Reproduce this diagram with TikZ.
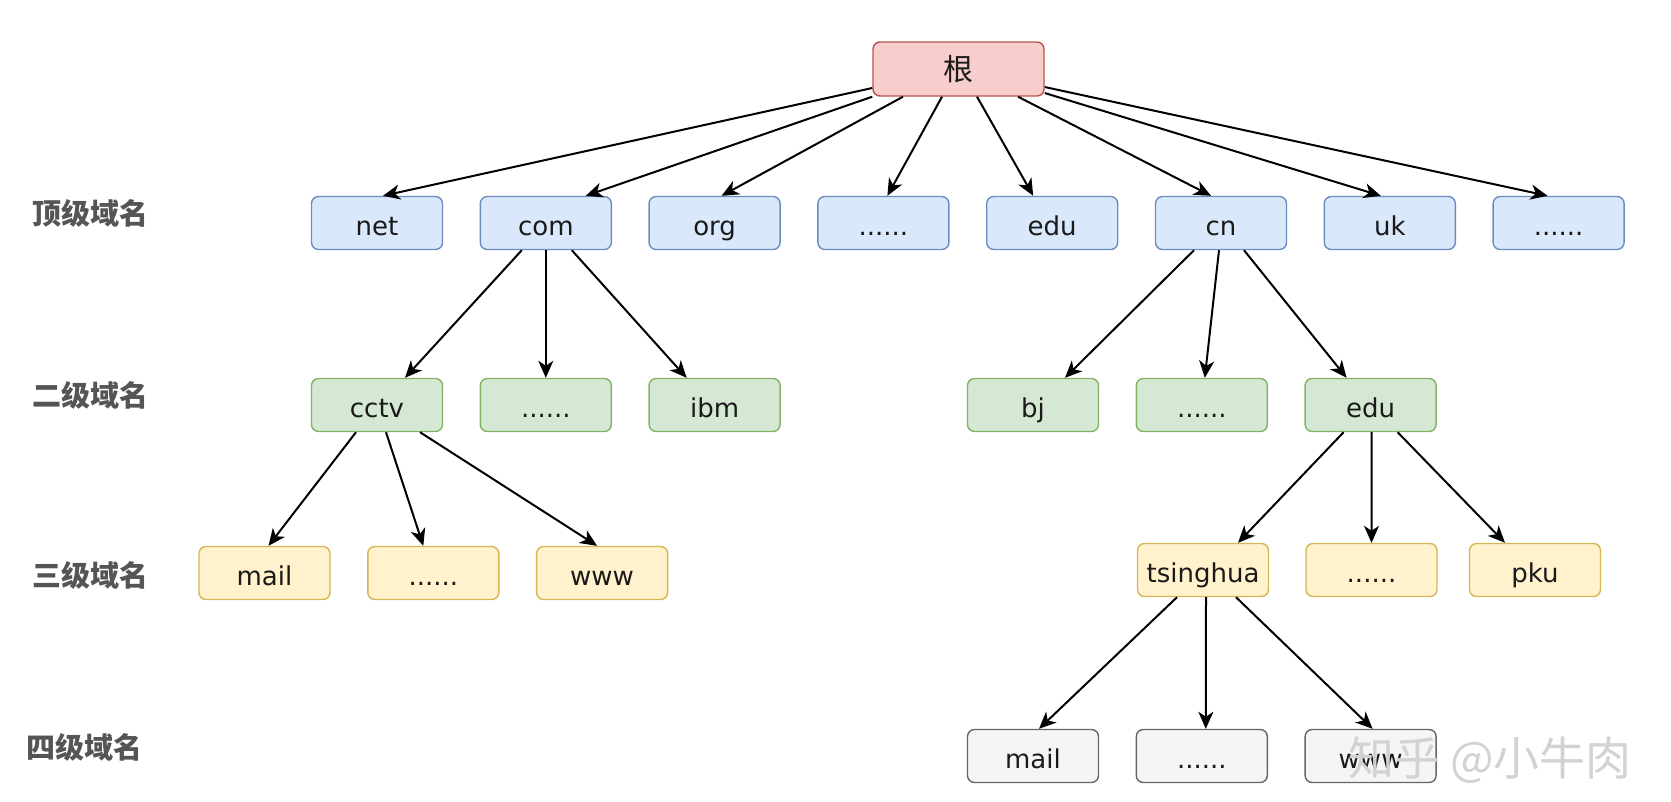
\documentclass[tikz,border=0pt]{standalone}
\usepackage{fontspec}
\setmainfont{DejaVu Sans}
\newfontfamily\cjk{Noto Sans CJK SC}
\usepackage{tikz}
\usetikzlibrary{arrows.meta}
\definecolor{RootFill}{HTML}{F8CECC}
\definecolor{RootLine}{HTML}{B85450}
\definecolor{TopFill}{HTML}{DAE8FC}
\definecolor{TopLine}{HTML}{6C8EBF}
\definecolor{SecFill}{HTML}{D5E8D4}
\definecolor{SecLine}{HTML}{82B366}
\definecolor{ThirdFill}{HTML}{FFF2CC}
\definecolor{ThirdLine}{HTML}{D6B656}
\definecolor{FourFill}{HTML}{F5F5F5}
\definecolor{FourLine}{HTML}{666666}
\definecolor{LvlGrey}{HTML}{555555}
\definecolor{TxtDark}{HTML}{1A1A1A}

\newcommand\moredots{......}

\tikzset{
  dbox/.style n args={2}{draw=#2, fill=#1, rounded corners=7pt,
    minimum width=131pt, minimum height=53pt, inner sep=0pt,
    text height=30pt, text depth=6pt,
    line width=1.4pt, text=TxtDark, font=\fontsize{26}{30}\selectfont},
  lvl/.style={font=\cjk\bfseries\fontsize{29}{32}\selectfont, text=LvlGrey},
  arr/.style={-{Stealth[length=17pt, width=15pt, inset=5pt]}, line width=2pt},
}

\begin{document}
\begin{tikzpicture}[x=1pt, y=-1pt]

  \useasboundingbox (0,0) rectangle (1671,801);

  %% Column settings: 8 top-level columns
  \def\W{168.8}    % column pitch
  \pgfmathsetmacro\cA{377}          % net
  \pgfmathsetmacro\cB{\cA+\W}       % com
  \pgfmathsetmacro\cC{\cA+\W*2}     % org
  \pgfmathsetmacro\cD{\cA+\W*3}     % ......
  \pgfmathsetmacro\cE{\cA+\W*4}     % edu
  \pgfmathsetmacro\cF{\cA+\W*5}     % cn
  \pgfmathsetmacro\cG{\cA+\W*6}     % uk
  \pgfmathsetmacro\cH{\cA+\W*7}     % ......

  % Shifted groups below cn and cctv
  \pgfmathsetmacro\cCnL{1033}       % bj, mail (level 4)
  \pgfmathsetmacro\cCnM{\cCnL+\W}
  \pgfmathsetmacro\cCnR{\cCnL+\W*2}
  \pgfmathsetmacro\cTvL{264.5}      % mail, ......, www (level 3)
  \pgfmathsetmacro\cTvM{\cTvL+\W}
  \pgfmathsetmacro\cTvR{\cTvL+\W*2}

  % Row y-coordinates (centres, counting down)
  \def\yRoot{69}
  \def\yTop{223}
  \def\ySec{405}
  \def\yThL{573}    % third level, left group
  \def\yThR{570}    % third level, right group
  \def\yFour{756}

  %% Level labels
  \node[lvl] (lTop)   at (90, 213) {顶级域名};
  \node[lvl] (lSec)   at (90, 395) {二级域名};
  \node[lvl] (lThird) at (90, 575) {三级域名};
  \node[lvl] (lFour)  at (85, 747) {四级域名};

  %% Root
  \node[dbox={RootFill}{RootLine}, minimum width=171pt, minimum height=54pt,
    text height=26pt, text depth=4pt,
    font=\cjk\fontsize{30}{32}\selectfont] (root) at (958.5, \yRoot) {根};

  %% Top-level domains
  \foreach \nm/\cx/\lbl in {
    net/\cA/net, com/\cB/com, org/\cC/org, topmore/\cD/\moredots,
    edutop/\cE/edu, cn/\cF/cn, uk/\cG/uk, topmoreb/\cH/\moredots
  }{
    \node[dbox={TopFill}{TopLine}] (\nm) at (\cx, \yTop) {\lbl};
  }

  %% Second-level domains
  \foreach \nm/\cx/\lbl in {
    cctv/\cA/cctv, commore/\cB/\moredots, ibm/\cC/ibm,
    bj/\cCnL/bj, cnmore/\cCnM/\moredots, edu/\cCnR/edu
  }{
    \node[dbox={SecFill}{SecLine}] (\nm) at (\cx, \ySec) {\lbl};
  }

  %% Third-level domains
  \foreach \nm/\cx/\lbl in {
    mail/\cTvL/mail, cctvmore/\cTvM/\moredots, www/\cTvR/www
  }{
    \node[dbox={ThirdFill}{ThirdLine}] (\nm) at (\cx, \yThL) {\lbl};
  }
  \foreach \nm/\cx/\lbl in {
    tsinghua/1203/tsinghua, edumore/1371.5/\moredots, pku/1535/pku
  }{
    \node[dbox={ThirdFill}{ThirdLine}] (\nm) at (\cx, \yThR) {\lbl};
  }

  %% Fourth-level domains
  \foreach \nm/\cx/\lbl in {
    thumail/\cCnL/mail, thumore/\cCnM/\moredots, thuwww/\cCnR/www
  }{
    \node[dbox={FourFill}{FourLine}] (\nm) at (\cx, \yFour) {\lbl};
  }

  %% Arrows from root
  \draw[arr] ([yshift=-19]root.west) -- ([xshift=6]net.north);
  \draw[arr] (root.south west) -- ([xshift=40]com.north);
  \draw[arr] ([xshift=-55.5]root.south) -- ([xshift=7]org.north);
  \draw[arr] ([xshift=-16.5]root.south) -- ([xshift=4]topmore.north);
  \draw[arr] ([xshift=18.5]root.south) -- ([xshift=-19]edutop.north);
  \draw[arr] ([xshift=59.5]root.south) -- ([xshift=-10]cn.north);
  \draw[arr] ([yshift=-24]root.east) -- ([xshift=-9]uk.north);
  \draw[arr] ([yshift=-18]root.east) -- ([xshift=-11]topmoreb.north);

  %% Arrows to the lower levels: source/start/target/end
  \foreach \src/\sx/\dst/\dx in {
    com/-24/cctv/28, com/0/commore/0, com/26/ibm/-28,
    cn/-27/bj/32, cn/-2/cnmore/3, cn/23/edu/-24,
    cctv/-21/mail/4, cctv/9/cctvmore/-10, cctv/43/www/-5,
    edu/-27/tsinghua/35, edu/1/edumore/0, edu/27/pku/-30,
    tsinghua/-26/thumail/6, tsinghua/3/thumore/4, tsinghua/33/thuwww/2
  }{
    \draw[arr] ([xshift=\sx]\src.south) -- ([xshift=\dx]\dst.north);
  }

  %% Watermark
  \node[font=\cjk\fontsize{46}{48}\selectfont, text=gray!35] (mark)
    at (1490, 760) {知乎 @小牛肉};

\end{tikzpicture}
\end{document}
